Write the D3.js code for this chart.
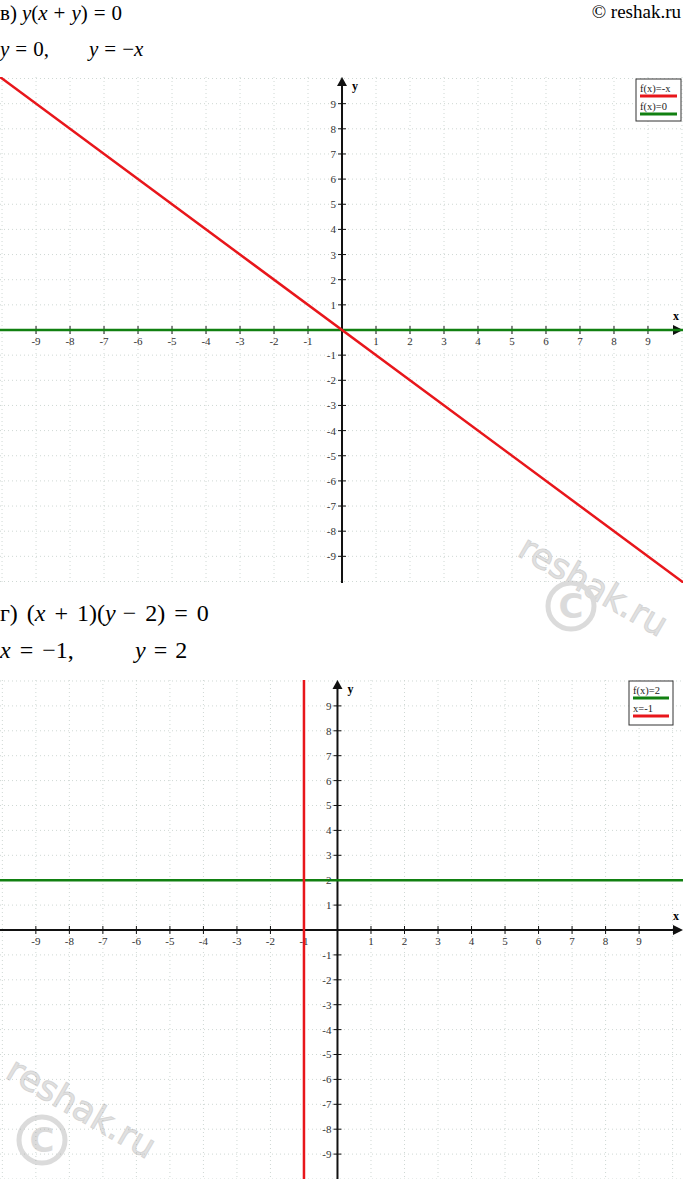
<!DOCTYPE html>
<html><head><meta charset="utf-8">
<script src="https://cdn.jsdelivr.net/npm/d3@7"></script>
<style>body{margin:0;background:#fff}svg{display:block}</style>
</head><body>
<svg id="c" width="683" height="1179"></svg>
<script>
// ---- data ----
const tickValues = [-9,-8,-7,-6,-5,-4,-3,-2,-1,1,2,3,4,5,6,7,8,9];
const gridValues = [-10,-9,-8,-7,-6,-5,-4,-3,-2,-1,0,1,2,3,4,5,6,7,8,9,10];
// chart в: y = -x (red), y = 0 (green)
const chart1Red = [{x:-10.1,y:10.1},{x:10.1,y:-10.1}];
const chart1Green = [{x:-10.1,y:0},{x:10.1,y:0}];
const legend1 = [{label:"f(x)=-x",color:"#e8161b"},{label:"f(x)=0",color:"#118011"}];
// chart г: y = 2 (green), x = -1 (red)
const chart2Green = [{x:-10.1,y:2},{x:10.4,y:2}];
const chart2Red = [{x:-1,y:10.05},{x:-1,y:-10.05}];
const legend2 = [{label:"f(x)=2",color:"#118011"},{label:"x=-1",color:"#e8161b"}];

const svg = d3.select("#c");
const serif = "'Liberation Serif','Times New Roman',serif";

// parts: [text, italic, dx]
function mathText(x, y, size, parts) {
  const t = svg.append("text").attr("x",x).attr("y",y).attr("font-family",serif).attr("font-size",size);
  parts.forEach(p => {
    const s = t.append("tspan").attr("font-style", p[1] ? "italic" : "normal").text(p[0]);
    if (p[2]) s.attr("dx", p[2]);
  });
  return t;
}

mathText(0, 20, 21, [["в)",false],["y",true,5],["(",false],["x",true],["+",false,6],["y",true,6],[")",false],["=",false,6],["0",false,6]]);
mathText(0, 56, 21, [["y",true],["=",false,6],["0,",false,6]]);
mathText(89, 56, 21, [["y",true],["=",false,6],["−",false,6],["x",true]]);
svg.append("text").attr("x",681).attr("y",18).attr("text-anchor","end")
  .attr("font-family",serif).attr("font-size",19).text("© reshak.ru");

mathText(0, 621, 24, [["г)",false],["(",false,9],["x",true],["+",false,9],["1)(",false,9],["y",true],["−",false,7],["2)",false,9],["=",false,9],["0",false,9]]);
mathText(0, 658, 24, [["x",true],["=",false,9],["−1,",false,9]]);
mathText(135, 658, 24, [["y",true],["=",false,8],["2",false,8]]);

function chart(o) {
  const g = svg.append("g");
  const x = d3.scaleLinear().domain(o.xd).range([0,683]);
  const y = d3.scaleLinear().domain(o.yd).range([o.top,o.bottom]);
  const x0 = x(0), y0 = y(0);
  // grid
  g.append("g").selectAll("line").data(gridValues.filter(v => x(v)>=0 && x(v)<=683)).join("line")
    .attr("x1",d=>x(d)).attr("x2",d=>x(d)).attr("y1",o.top).attr("y2",o.bottom)
    .attr("stroke","#cfd8d4").attr("stroke-width",1).attr("stroke-dasharray","1,3");
  g.append("g").selectAll("line").data(gridValues.filter(v => y(v)>=o.top && y(v)<=o.bottom)).join("line")
    .attr("y1",d=>y(d)).attr("y2",d=>y(d)).attr("x1",0).attr("x2",683)
    .attr("stroke","#cfd8d4").attr("stroke-width",1).attr("stroke-dasharray","1,3");
  // axes
  g.append("line").attr("x1",0).attr("x2",676).attr("y1",y0).attr("y2",y0).attr("stroke","#111").attr("stroke-width",2);
  g.append("path").attr("d",`M683,${y0} L673,${y0-5} L673,${y0+5} Z`).attr("fill","#111");
  g.append("line").attr("x1",x0).attr("x2",x0).attr("y1",o.top+6).attr("y2",o.bottom).attr("stroke","#111").attr("stroke-width",2);
  g.append("path").attr("d",`M${x0},${o.top} L${x0-5},${o.top+9} L${x0+5},${o.top+9} Z`).attr("fill","#111");
  // ticks
  g.append("g").selectAll("line").data(tickValues).join("line")
    .attr("x1",d=>x(d)).attr("x2",d=>x(d)).attr("y1",y0-4).attr("y2",y0+4).attr("stroke","#111").attr("stroke-width",1);
  g.append("g").selectAll("line").data(tickValues).join("line")
    .attr("y1",d=>y(d)).attr("y2",d=>y(d)).attr("x1",x0-4).attr("x2",x0+4).attr("stroke","#111").attr("stroke-width",1);
  g.append("g").selectAll("text").data(tickValues).join("text")
    .attr("x",d=>x(d)).attr("y",y0+15).attr("text-anchor","middle")
    .attr("font-family",serif).attr("font-size",11).attr("fill","#333").text(d=>d);
  g.append("g").selectAll("text").data(tickValues).join("text")
    .attr("x",x0-6).attr("y",d=>y(d)+4).attr("text-anchor","end")
    .attr("font-family",serif).attr("font-size",11).attr("fill","#333").text(d=>d);
  g.append("text").attr("x",676).attr("y",y0-10).attr("text-anchor","middle").attr("font-family",serif)
    .attr("font-weight","bold").attr("font-size",12).text("x");
  g.append("text").attr("x",x0+13).attr("y",o.top+13).attr("text-anchor","middle").attr("font-family",serif)
    .attr("font-weight","bold").attr("font-size",12).text("y");
  // series
  const line = d3.line().x(d=>x(d.x)).y(d=>y(d.y));
  const clipId = "clip"+o.id;
  svg.append("clipPath").attr("id",clipId).append("rect").attr("x",0).attr("y",o.top).attr("width",683).attr("height",o.bottom-o.top);
  o.series.forEach(s => {
    g.append("path").datum(s.data).attr("d",line).attr("fill","none").attr("stroke",s.color)
      .attr("stroke-width",2.5).attr("clip-path",`url(#${clipId})`);
  });
  // legend
  const L = o.legend;
  const lg = g.append("g");
  lg.append("rect").attr("x",L.x).attr("y",L.y).attr("width",L.w).attr("height",L.h)
    .attr("fill","#fff").attr("stroke","#333").attr("stroke-width",1);
  L.items.forEach((it,i) => {
    const by = L.y + 13 + i*18;
    lg.append("text").attr("x",L.x+4).attr("y",by).attr("font-family",serif).attr("font-size",10.5)
      .attr("fill","#222").text(it.label);
    lg.append("line").attr("x1",L.x+4).attr("x2",L.x+L.w-4).attr("y1",by+4).attr("y2",by+4)
      .attr("stroke",it.color).attr("stroke-width",3);
  });
}

chart({id:1, xd:[-10.06,10.03], yd:[10.06,-10.06], top:77, bottom:583,
  series:[{data:chart1Green,color:"#118011"},{data:chart1Red,color:"#e8161b"}],
  legend:{x:636,y:79,w:45,h:42,items:legend1}});
chart({id:2, xd:[-10.07,10.31], yd:[10.04,-10.0], top:680, bottom:1179,
  series:[{data:chart2Green,color:"#118011"},{data:chart2Red,color:"#e8161b"}],
  legend:{x:629,y:681,w:44,h:44,items:legend2}});

// watermarks
function watermark(cx, cy, r, tx, ty) {
  const w = svg.append("g").attr("opacity",0.35);
  w.append("text").attr("transform",`translate(${tx},${ty}) rotate(30)`).attr("font-family","'DejaVu Sans',sans-serif")
    .attr("font-size",35).attr("fill","#aaa").attr("stroke","#888").attr("stroke-width",1).text("reshak.ru");
  w.append("circle").attr("cx",cx).attr("cy",cy).attr("r",r).attr("fill","none").attr("stroke","#999").attr("stroke-width",5);
  w.append("text").attr("x",cx).attr("y",cy+12).attr("text-anchor","middle").attr("font-family","'DejaVu Sans',sans-serif")
    .attr("font-size",34).attr("font-weight","bold").attr("fill","#999").text("C");
}
watermark(571, 606, 23, 516, 555);
watermark(42, 1140, 23, 4, 1077);
</script>
</body></html>
